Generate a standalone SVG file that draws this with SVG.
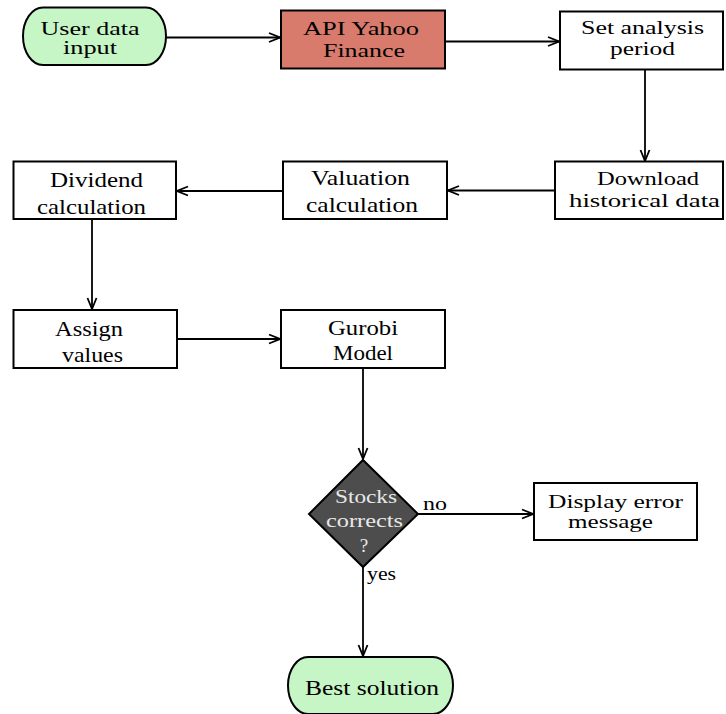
<svg xmlns="http://www.w3.org/2000/svg" width="726" height="714" viewBox="0 0 726 714">
<style>
.box{fill:#ffffff;stroke:#000;stroke-width:2}
.term{fill:#c6f5c6;stroke:#000;stroke-width:2}
.api{fill:#d97b6c;stroke:#000;stroke-width:2}
.dec{fill:#4d4d4d;stroke:#000;stroke-width:2}
text{font-family:'Liberation Serif','DejaVu Serif',serif;font-size:21px;fill:#000;text-anchor:middle}
.tight{font-size:19px}
.light{fill:#e8e8e8;font-size:19px}
.lbl{font-size:18px;text-anchor:start}
.conn line{stroke:#000;stroke-width:1.8;fill:none;marker-end:url(#arr)}
</style>
<defs>
<marker id="arr" markerUnits="userSpaceOnUse" viewBox="-12 -6 14 12" refX="0" refY="0" markerWidth="14" markerHeight="12" orient="auto">
<path d="M-11,-4.5 L0,0 L-11,4.5" fill="none" stroke="#000" stroke-width="1.8"/>
</marker>
</defs>
<g id="connectors" class="conn">
<line x1="166" y1="37.5" x2="280" y2="37.5"/>
<line x1="445" y1="41.5" x2="559" y2="41.5"/>
<line x1="645" y1="69.5" x2="645" y2="161"/>
<line x1="555" y1="190.5" x2="448" y2="190.5"/>
<line x1="283" y1="191" x2="177" y2="191"/>
<line x1="92" y1="219" x2="92" y2="309"/>
<line x1="177" y1="339" x2="280" y2="339"/>
<line x1="363" y1="368" x2="363" y2="459"/>
<line x1="418" y1="514" x2="533" y2="514"/>
<line x1="363" y1="567" x2="363" y2="656"/>
</g>
<g id="user-input">
<path class="term" d="M43,7.5 H146 A20,28.75 0 0 1 146,65 H43 A20,28.75 0 0 1 43,7.5 Z"/>
<text class="tight" x="90" y="34.5" textLength="99" lengthAdjust="spacingAndGlyphs">User data</text>
<text class="tight" x="90" y="54" textLength="54" lengthAdjust="spacingAndGlyphs">input</text>
</g>
<g id="api-yahoo">
<rect class="api" x="281" y="10.5" width="164" height="58"/>
<text class="tight" x="361" y="35" textLength="116" lengthAdjust="spacingAndGlyphs">API Yahoo</text>
<text class="tight" x="364" y="57" textLength="82" lengthAdjust="spacingAndGlyphs">Finance</text>
</g>
<g id="set-period">
<rect class="box" x="560" y="11.5" width="163" height="58"/>
<text class="tight" x="642.5" y="33.5" textLength="123" lengthAdjust="spacingAndGlyphs">Set analysis</text>
<text class="tight" x="642.5" y="55" textLength="65" lengthAdjust="spacingAndGlyphs">period</text>
</g>
<g id="download">
<rect class="box" x="555" y="161.5" width="168" height="57.5"/>
<text class="tight" x="648" y="185" textLength="102" lengthAdjust="spacingAndGlyphs">Download</text>
<text class="tight" x="644.5" y="206.5" textLength="151" lengthAdjust="spacingAndGlyphs">historical data</text>
</g>
<g id="valuation">
<rect class="box" x="283" y="161.5" width="164" height="57.5"/>
<text x="360.5" y="185" textLength="99" lengthAdjust="spacingAndGlyphs">Valuation</text>
<text x="362" y="211.5" textLength="112" lengthAdjust="spacingAndGlyphs">calculation</text>
</g>
<g id="dividend">
<rect class="box" x="13.5" y="161.5" width="162.5" height="57.5"/>
<text x="96.5" y="187" textLength="93" lengthAdjust="spacingAndGlyphs">Dividend</text>
<text x="91.5" y="213.5" textLength="109" lengthAdjust="spacingAndGlyphs">calculation</text>
</g>
<g id="assign">
<rect class="box" x="13.5" y="310" width="163.5" height="58"/>
<text x="89" y="336" textLength="68" lengthAdjust="spacingAndGlyphs">Assign</text>
<text x="92.5" y="361.5" textLength="61" lengthAdjust="spacingAndGlyphs">values</text>
</g>
<g id="gurobi">
<rect class="box" x="281" y="310" width="164" height="58"/>
<text x="363" y="335" textLength="70" lengthAdjust="spacingAndGlyphs">Gurobi</text>
<text x="363" y="360" textLength="60" lengthAdjust="spacingAndGlyphs">Model</text>
</g>
<g id="decision">
<polygon class="dec" points="363,460 418,514 363,567 309,514"/>
<text class="light" x="366" y="503" textLength="62" lengthAdjust="spacingAndGlyphs">Stocks</text>
<text class="light" x="364.5" y="527" textLength="77" lengthAdjust="spacingAndGlyphs">corrects</text>
<text class="light" x="364" y="552">?</text>
<text class="lbl" x="423" y="510" textLength="24" lengthAdjust="spacingAndGlyphs">no</text>
<text class="lbl" x="367" y="580" textLength="29" lengthAdjust="spacingAndGlyphs">yes</text>
</g>
<g id="display-error">
<rect class="box" x="534" y="483" width="163" height="57"/>
<text class="tight" x="615.5" y="508" textLength="135" lengthAdjust="spacingAndGlyphs">Display error</text>
<text class="tight" x="610.5" y="527.5" textLength="85" lengthAdjust="spacingAndGlyphs">message</text>
</g>
<g id="best-solution">
<path class="term" d="M308,657 H433 A20,28.5 0 0 1 433,714 H308 A20,28.5 0 0 1 308,657 Z"/>
<text x="372" y="695" textLength="134" lengthAdjust="spacingAndGlyphs">Best solution</text>
</g>
</svg>
